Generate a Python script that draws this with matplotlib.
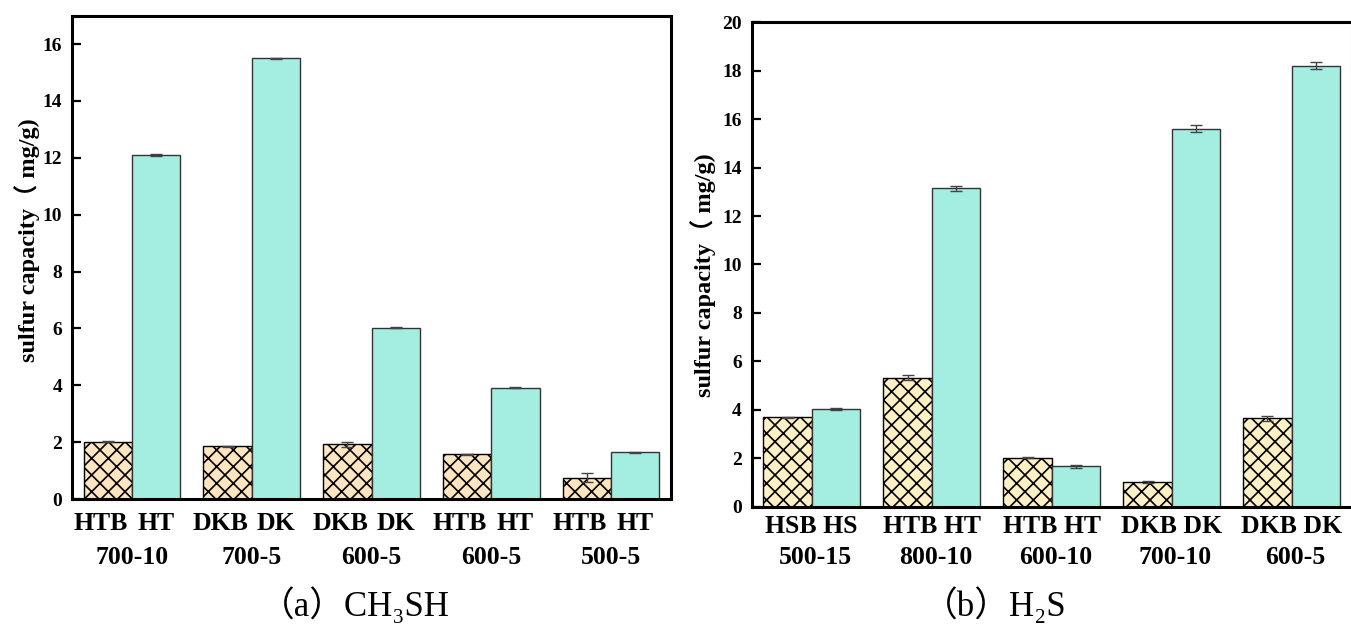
import numpy as np
import matplotlib
matplotlib.use("Agg")
import matplotlib.pyplot as plt

plt.rcParams['font.family'] = ['Liberation Serif', 'DejaVu Serif', 'Noto Sans CJK SC']
plt.rcParams['hatch.linewidth'] = 1.2

# (a) CH3SH
grupos_a = ["700-10", "700-5", "600-5", "600-5", "500-5"]
base_a = ["HTB", "DKB", "DKB", "HTB", "HTB"]
mod_a = ["HT", "DK", "DK", "HT", "HT"]
base_a_val = [2.02, 1.85, 1.92, 1.58, 0.75]
base_a_err = [0.02, 0.02, 0.08, 0.02, 0.15]
mod_a_val = [12.1, 15.5, 6.03, 3.92, 1.65]
mod_a_err = [0.02, 0.02, 0.02, 0.02, 0.02]

# (b) H2S
grupos_b = ["500-15", "800-10", "600-10", "700-10", "600-5"]
pares_b = ["HSB HS", "HTB HT", "HTB HT", "DKB DK", "DKB DK"]
base_b_val = [3.70, 5.33, 2.03, 1.03, 3.65]
base_b_err = [0.02, 0.10, 0.03, 0.03, 0.12]
mod_b_val = [4.03, 13.15, 1.67, 15.6, 18.2]
mod_b_err = [0.05, 0.10, 0.08, 0.15, 0.15]

ancho = 0.403
err_kw = dict(ecolor="#444444", elinewidth=1.0, capsize=4, capthick=1.0)


def barras(ax, base_val, base_err, mod_val, mod_err, color_base):
    x = np.arange(len(base_val))
    ax.bar(x - ancho / 2, base_val, ancho, yerr=base_err, color=color_base,
           edgecolor="black", linewidth=1.0, hatch="xx", error_kw=err_kw, zorder=2)
    ax.bar(x + ancho / 2, mod_val, ancho, yerr=mod_err, color="#A3EEE0",
           edgecolor="#333333", linewidth=1.0, error_kw=err_kw, zorder=2)
    ax.set_xlim(-0.5, 4.5)
    ax.set_xticks([])
    for s in ax.spines.values():
        s.set_linewidth(2.2)
    ax.tick_params(axis="y", direction="in", length=6.5, width=1.6, pad=7,
                   labelsize=14)
    for t in ax.get_yticklabels():
        t.set_fontweight("bold")
    ax.set_ylabel("sulfur capacity（ mg/g)", fontsize=17.5, fontweight="bold")
    return x


fig = plt.figure(figsize=(13.51, 6.27), dpi=100)

ax1 = fig.add_axes([0.0533, 0.2041, 0.4434, 0.7709])
x = barras(ax1, base_a_val, base_a_err, mod_a_val, mod_a_err, "#FDE5C2")
ax1.set_ylim(0, 17)
ax1.set_yticks(np.arange(0, 17, 2))
ax1.yaxis.set_label_coords(-0.053, 0.535)
tr = ax1.get_xaxis_transform()
for i in x:
    ax1.text(i - ancho / 2 - 0.06, -0.05, base_a[i], transform=tr, ha="center",
             va="center", fontsize=18.5, fontweight="bold")
    ax1.text(i + ancho / 2, -0.05, mod_a[i], transform=tr, ha="center", va="center",
             fontsize=18.5, fontweight="bold")
    ax1.text(i, -0.122, grupos_a[i], transform=tr, ha="center", va="center",
             fontsize=18.5, fontweight="bold")

ax2 = fig.add_axes([0.5564, 0.1914, 0.4441, 0.7735])
x = barras(ax2, base_b_val, base_b_err, mod_b_val, mod_b_err, "#FDF0C5")
ax2.set_ylim(0, 20)
ax2.set_yticks(np.arange(0, 21, 2))
ax2.yaxis.set_label_coords(-0.06, 0.478)
tr = ax2.get_xaxis_transform()
for i in x:
    ax2.text(i, -0.041, pares_b[i], transform=tr, ha="center", va="center",
             fontsize=18.5, fontweight="bold")
    ax2.text(i + 0.03, -0.105, grupos_b[i], transform=tr, ha="center", va="center",
             fontsize=18.5, fontweight="bold")

fig.text(355 / 1351, 1 - 616 / 627, "（a）CH₃SH", ha="center", va="baseline", fontsize=25)
fig.text(995 / 1351, 1 - 616 / 627, "（b）H₂S", ha="center", va="baseline", fontsize=25)

fig.savefig("out.png", dpi=100)
